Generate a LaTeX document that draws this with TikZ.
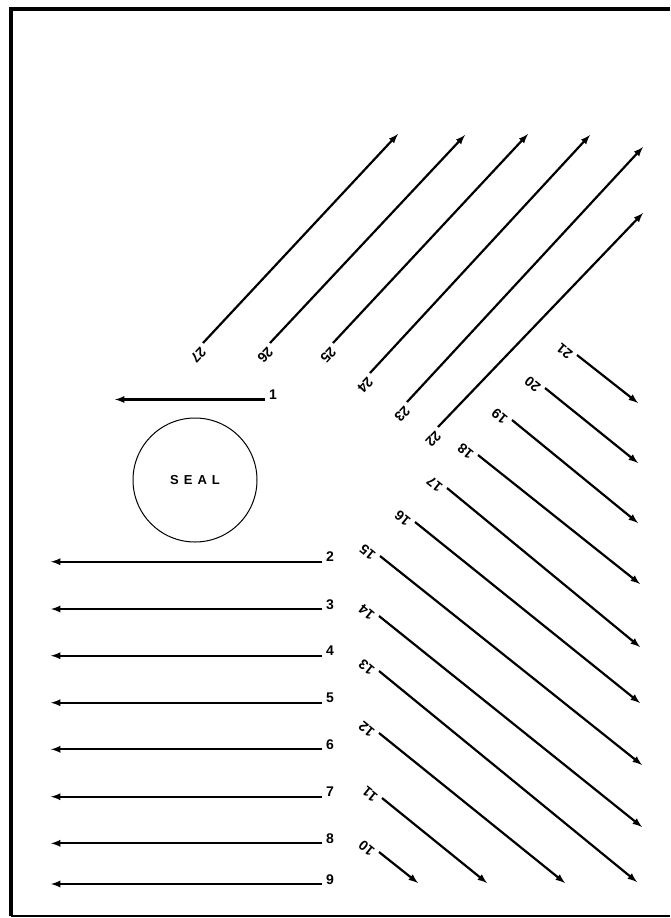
\documentclass[tikz,border=0pt]{standalone}
\usepackage{fontspec}
\setsansfont{Liberation Sans}
\usetikzlibrary{arrows, positioning}

\begin{document}
\begin{tikzpicture}[x=1pt, y=-1pt,
  num/.style={font=\sffamily\bfseries\fontsize{14}{14}\selectfont, anchor=base west, inner sep=4pt},
  upnum/.style={num, rotate=227},
  downnum/.style={num, rotate=141},
  ray/.style={-latex, line width=2.2pt}]
  \useasboundingbox (0,0) rectangle (670,918);

  % frame
  \draw [line width=4pt] (670,9) -- (10.5,9) -- (10.5,916);
  \draw [line width=1.5pt] (10.5,916) -- (670,916);

  % seal
  \node [draw, circle, line width=1pt, minimum size=124pt,
         font=\sffamily\bfseries\fontsize{13}{13}\selectfont] (seal) at (195,480)
        {S\kern5pt E\kern5pt A\kern5pt L};

  % rays to the left
  \node [num] (n1) at (265,399.5) {1};
  \coordinate (e1) at (115,399.5);
  \draw [ray] (n1.base west) -- (e1);

  \node [num] (n2) at (322,561.7) {2};
  \coordinate (e2) at (51,561.7);
  \draw [ray] (n2.base west) -- (e2);

  \node [num] (n3) at (322,609) {3};
  \coordinate (e3) at (51,609);
  \draw [ray] (n3.base west) -- (e3);

  \node [num] (n4) at (322,655.7) {4};
  \coordinate (e4) at (51,655.7);
  \draw [ray] (n4.base west) -- (e4);

  \node [num] (n5) at (322,702.7) {5};
  \coordinate (e5) at (51,702.7);
  \draw [ray] (n5.base west) -- (e5);

  \node [num] (n6) at (322,749.3) {6};
  \coordinate (e6) at (51,749.3);
  \draw [ray] (n6.base west) -- (e6);

  \node [num] (n7) at (322,796.7) {7};
  \coordinate (e7) at (51,796.7);
  \draw [ray] (n7.base west) -- (e7);

  \node [num] (n8) at (322,843.3) {8};
  \coordinate (e8) at (51,843.3);
  \draw [ray] (n8.base west) -- (e8);

  \node [num] (n9) at (322,884) {9};
  \coordinate (e9) at (51,884);
  \draw [ray] (n9.base west) -- (e9);

  % rays down to the right
  \node [downnum] (n10) at (379,852) {10};
  \coordinate (e10) at (418,883);
  \draw [ray] (n10.base west) -- (e10);

  \node [downnum] (n11) at (382,798) {11};
  \coordinate (e11) at (487,883);
  \draw [ray] (n11.base west) -- (e11);

  \node [downnum] (n12) at (379,733) {12};
  \coordinate (e12) at (565,883);
  \draw [ray] (n12.base west) -- (e12);

  \node [downnum] (n13) at (379,671) {13};
  \coordinate (e13) at (637,882);
  \draw [ray] (n13.base west) -- (e13);

  \node [downnum] (n14) at (379,616) {14};
  \coordinate (e14) at (642,827);
  \draw [ray] (n14.base west) -- (e14);

  \node [downnum] (n15) at (380,556) {15};
  \coordinate (e15) at (642,765);
  \draw [ray] (n15.base west) -- (e15);

  \node [downnum] (n16) at (415,522) {16};
  \coordinate (e16) at (640,703);
  \draw [ray] (n16.base west) -- (e16);

  \node [downnum] (n17) at (447,488) {17};
  \coordinate (e17) at (640,647);
  \draw [ray] (n17.base west) -- (e17);

  \node [downnum] (n18) at (478,455) {18};
  \coordinate (e18) at (640,584);
  \draw [ray] (n18.base west) -- (e18);

  \node [downnum] (n19) at (512,420) {19};
  \coordinate (e19) at (638,523);
  \draw [ray] (n19.base west) -- (e19);

  \node [downnum] (n20) at (545,388) {20};
  \coordinate (e20) at (638,463);
  \draw [ray] (n20.base west) -- (e20);

  \node [downnum] (n21) at (577,355) {21};
  \coordinate (e21) at (638,403);
  \draw [ray] (n21.base west) -- (e21);

  % rays up to the right
  \node [upnum] (n22) at (438,427) {22};
  \coordinate (e22) at (643,213);
  \draw [ray] (n22.base west) -- (e22);

  \node [upnum] (n23) at (407,402) {23};
  \coordinate (e23) at (643,147);
  \draw [ray] (n23.base west) -- (e23);

  \node [upnum] (n24) at (370,373) {24};
  \coordinate (e24) at (590,135);
  \draw [ray] (n24.base west) -- (e24);

  \node [upnum] (n25) at (333,343) {25};
  \coordinate (e25) at (528,134);
  \draw [ray] (n25.base west) -- (e25);

  \node [upnum] (n26) at (270,343) {26};
  \coordinate (e26) at (465,135);
  \draw [ray] (n26.base west) -- (e26);

  \node [upnum] (n27) at (203,343) {27};
  \coordinate (e27) at (398,134);
  \draw [ray] (n27.base west) -- (e27);
\end{tikzpicture}
\end{document}
